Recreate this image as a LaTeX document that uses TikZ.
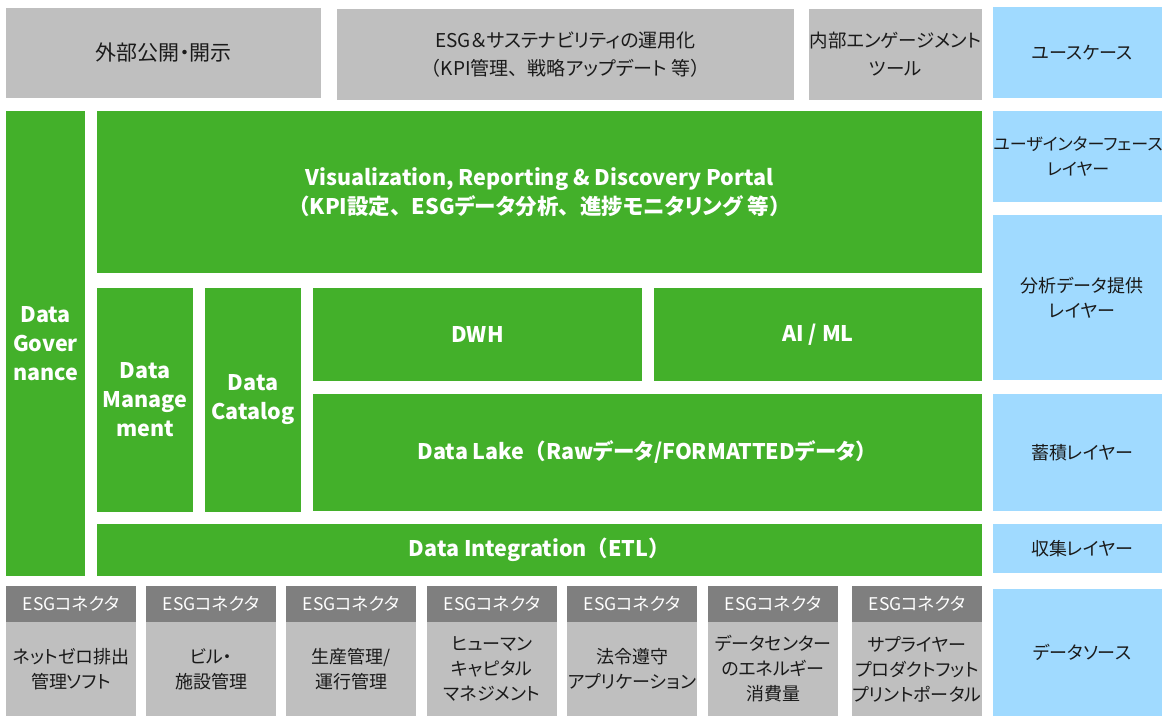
\documentclass[tikz,border=0pt]{standalone}
\usepackage{fontspec}
\setmainfont{Noto Sans CJK JP}[RawFeature=+palt]
\newfontfamily\fwfont{Noto Sans CJK JP}
\newcommand\Lpar{{\fwfont （}}
\newcommand\Rpar{{\fwfont ）}}
\newcommand\Jcomma{{\fwfont 、}}
\usetikzlibrary{fit}
\definecolor{grn}{RGB}{67,176,42}
\definecolor{lgray}{RGB}{191,191,191}
\definecolor{dgray}{RGB}{127,127,127}
\definecolor{lblue}{RGB}{160,218,255}
\definecolor{ink}{RGB}{26,26,26}
% style, name, corner1, corner2, text
\newcommand\blk[5]{%
  \node[#1, fit={#3 #4}] (#2) {};
  \node[#1txt] (#2t) at (#2.center) {#5};}
\begin{document}
\begin{tikzpicture}[x=1pt,y=-1pt,
  base/.style={inner sep=0pt, outer sep=0pt, align=center, draw=none},
  gbox/.style={base, fill=grn},
  gboxtxt/.style={base, text=white, font=\bfseries\fontsize{21.5}{29}\selectfont},
  tbox/.style={base, fill=lgray},
  tboxtxt/.style={base, text=ink, font=\fontsize{19}{28}\selectfont},
  bbox/.style={base, fill=lblue},
  bboxtxt/.style={base, text=ink, font=\fontsize{18}{25}\selectfont},
  hbox/.style={base, fill=dgray},
  hboxtxt/.style={base, text=white, font=\fontsize{17.5}{20}\selectfont},
  sbox/.style={base, fill=lgray},
  sboxtxt/.style={base, text=ink, font=\fontsize{18}{25}\selectfont}]
\useasboundingbox (0,0) rectangle (1162,716);
% top row
\node[tbox, fit={(6,8)(321,98)}] (t1) {};
\node[tboxtxt, font=\fontsize{21}{28}\selectfont] (t1t) at (t1.center) {外部公開・開示};
\blk{tbox}{t2}{(337,9)}{(794,100)}{ESG＆サステナビリティの運用化\\\Lpar KPI管理\Jcomma 戦略アップデート 等\Rpar}
\node[tbox, fit={(809,9)(982,100)}] (t3) {};
\node[tboxtxt, font=\fontsize{18.5}{28}\selectfont] (t3t) at (t3.center) {内部エンゲージメント\\ツール};
% blue column
\blk{bbox}{b1}{(993,7)}{(1171,98)}{ユースケース}
\node[bbox, fit={(993,111)(1171,202)}] (b2) {};
\node[bboxtxt, font=\fontsize{17}{25}\selectfont, xshift=-4pt] (b2t) at (b2.center) {ユーザインターフェース\\レイヤー};
\blk{bbox}{b3}{(993,215)}{(1171,380)}{分析データ提供\\レイヤー}
\blk{bbox}{b4}{(993,394)}{(1171,511)}{蓄積レイヤー}
\blk{bbox}{b5}{(993,524)}{(1171,573)}{収集レイヤー}
\blk{bbox}{b6}{(993,589)}{(1171,716)}{データソース}
% green blocks
\blk{gbox}{gov}{(6,111)}{(85,576)}{Data\\Gover\\nance}
\blk{gbox}{vis}{(97,111)}{(982,273)}{Visualization, Reporting \& Discovery Portal\\\Lpar KPI設定\Jcomma ESGデータ分析\Jcomma 進捗モニタリング 等\Rpar}
\blk{gbox}{dm}{(97,288)}{(193,512)}{Data\\Manage\\ment}
\blk{gbox}{dc}{(205,288)}{(301,512)}{Data\\Catalog}
\blk{gbox}{dwh}{(313,288)}{(642,381)}{DWH}
\blk{gbox}{ai}{(654,288)}{(982,381)}{AI / ML}
\blk{gbox}{lake}{(313,394)}{(982,511)}{Data Lake\Lpar Rawデータ/FORMATTEDデータ\Rpar}
\blk{gbox}{etl}{(97,524)}{(982,576)}{Data Integration\Lpar ETL\Rpar}
% sources
\foreach \x/\n/\t in {6/s1/{ネットゼロ排出\\管理ソフト},
                      146/s2/{ビル・\\施設管理},
                      286/s3/{生産管理/\\運行管理},
                      427/s4/{ヒューマン\\キャピタル\\マネジメント},
                      567/s5/{法令遵守\\アプリケーション},
                      708/s6/{データセンター\\のエネルギー\\消費量},
                      852/s7/{サプライヤー\\プロダクトフット\\プリントポータル}}{
  \blk{hbox}{\n h}{(\x,586)}{(\x+130,622)}{ESGコネクタ}
  \blk{sbox}{\n b}{(\x,622)}{(\x+130,716)}{\t}
}
\end{tikzpicture}
\end{document}
